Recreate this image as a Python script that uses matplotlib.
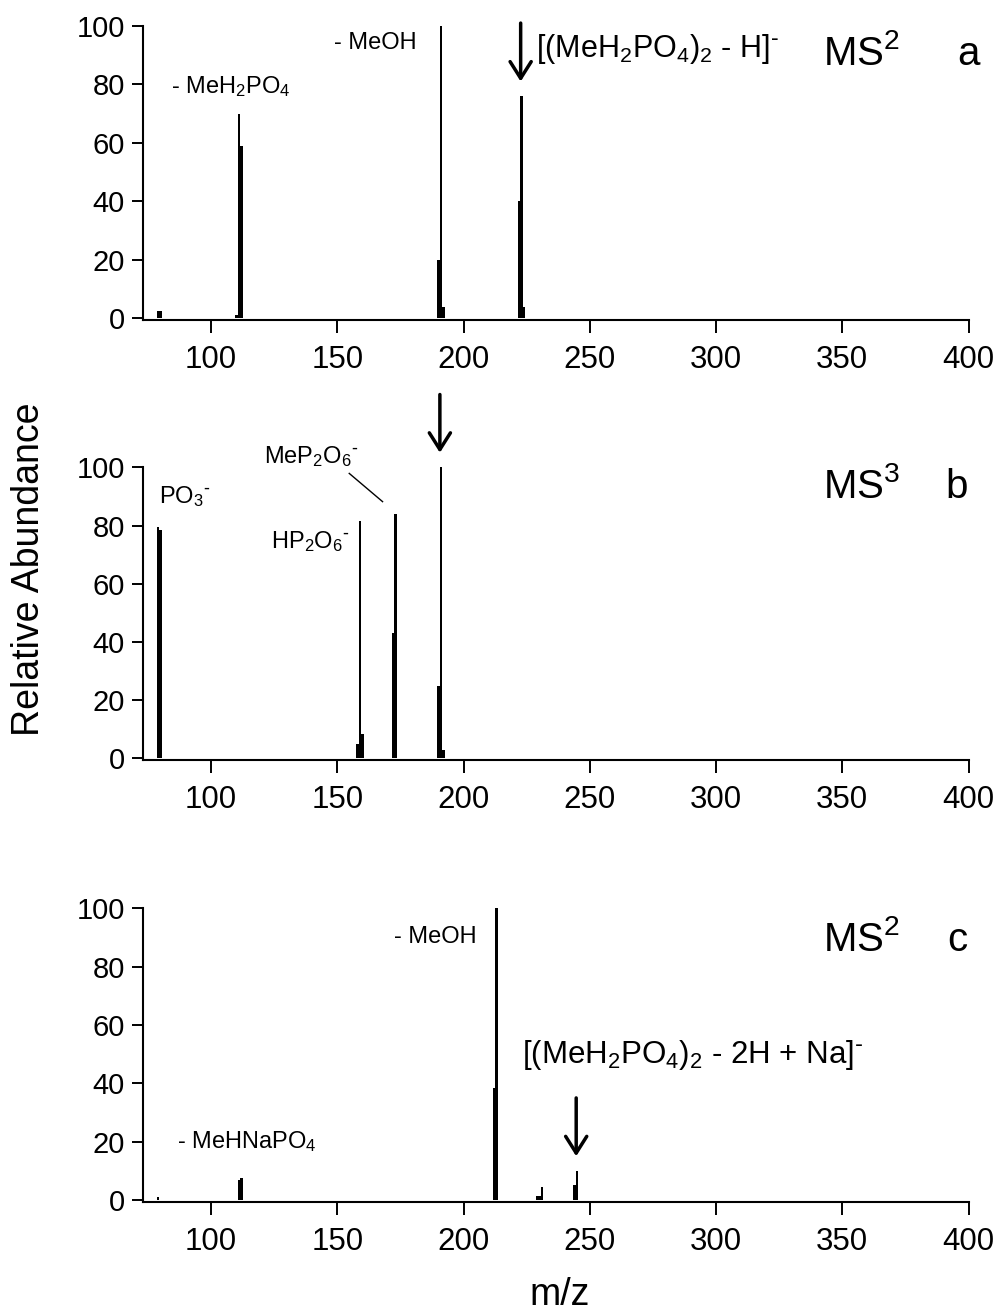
import matplotlib
matplotlib.use('Agg')
import matplotlib.pyplot as plt

plt.rcParams['font.family'] = ['Liberation Sans', 'DejaVu Sans']
plt.rcParams['mathtext.default'] = 'regular'

# ---- data ----
mz_a = [79, 80, 110, 111, 112, 190, 191, 192, 222, 223, 224]
ab_a = [2.5, 2.5, 1, 70, 59, 20, 100, 4, 40, 76, 4]

mz_b = [79, 80, 158, 159, 160, 172, 173, 190, 191, 192]
ab_b = [79.5, 78.5, 5, 81.5, 8.5, 43, 84, 25, 100, 3]

mz_c = [79, 111, 112, 212, 213, 229, 230, 231, 244, 245]
ab_c = [1, 7, 7.5, 38.5, 100, 1.5, 1.5, 4.5, 5, 10]

precursor_mz = [223, 191, 245]
stage_labels = ['MS$^2$', 'MS$^3$', 'MS$^2$']
panel_letters = ['a', 'b', 'c']
x_ticks = [100, 150, 200, 250, 300, 350, 400]
y_ticks = [0, 20, 40, 60, 80, 100]

fig = plt.figure(figsize=(10, 13.16), dpi=100)

W, H = 1000.0, 1316.0
left_px, right_px = 143.0, 968.5
panels_px = [(26.0, 319.8), (467.3, 759.8), (908.3, 1201.5)]

axes = []
for top, bot in panels_px:
    ax = fig.add_axes([left_px / W, 1 - bot / H, (right_px - left_px) / W, (bot - top) / H])
    axes.append(ax)

SUPM = r'$^{\text{-}}$'

datasets = [(mz_a, ab_a), (mz_b, ab_b), (mz_c, ab_c)]
for i, ax in enumerate(axes):
    mz, ab = datasets[i]
    ax.bar(mz, ab, width=1.0, color='black', linewidth=0)
    ax.set_xlim(73, 400)
    ax.set_ylim(-0.5, 100)
    ax.set_xticks(x_ticks)
    ax.set_yticks(y_ticks)
    for s in ['top', 'right']:
        ax.spines[s].set_visible(False)
    for s in ['left', 'bottom']:
        ax.spines[s].set_linewidth(1.5)
    ax.tick_params(axis='x', direction='out', length=9.5, width=1.4, labelsize=22.5, pad=9)
    ax.tick_params(axis='y', direction='out', length=8, width=1.4, labelsize=21, pad=5)
    # precursor arrow
    p = precursor_mz[i]
    peak = ab[mz.index(p)]
    tip = peak + 5
    ax.annotate('', xy=(p - 0.4, tip), xytext=(p - 0.4, tip + 20),
                arrowprops=dict(arrowstyle='->,head_length=0.6,head_width=0.38',
                                lw=2.5, color='black', mutation_scale=20,
                                shrinkA=0, shrinkB=0),
                annotation_clip=False)
    ax.text(342.5, [86.7, 89.3, 85.5][i], stage_labels[i], fontsize=29, va='baseline', ha='left')
    ax.text([395.5, 391.0, 391.5][i], [86.7, 89.3, 85.5][i], panel_letters[i],
            fontsize=29, va='baseline', ha='left')

axa, axb, axc = axes

# panel a annotations
axa.text(84.1, 77.0, '- MeH$_2$PO$_4$', fontsize=17, va='baseline', ha='left')
axa.text(148.7, 92.1, '- MeOH', fontsize=17, va='baseline', ha='left')
axa.text(228.8, 89.5, '[(MeH$_2$PO$_4$)$_2$ - H]' + SUPM, fontsize=22, va='baseline', ha='left')

# panel b annotations
axb.text(79.4, 87.6, 'PO$_3$' + SUPM, fontsize=17, va='baseline', ha='left')
axb.text(123.6, 72.2, 'HP$_2$O$_6$' + SUPM, fontsize=17, va='baseline', ha='left')
axb.text(121.0, 101.6, 'MeP$_2$O$_6$' + SUPM, fontsize=17, va='baseline', ha='left')
axb.plot([154.7, 167.9], [97.9, 88.2], color='black', lw=1.0, clip_on=False)

# panel c annotations
axc.text(172.4, 88.0, '- MeOH', fontsize=17, va='baseline', ha='left')
axc.text(86.4, 17.7, '- MeHNaPO$_4$', fontsize=17, va='baseline', ha='left')
axc.text(223.0, 46.9, '[(MeH$_2$PO$_4$)$_2$ - 2H + Na]' + SUPM, fontsize=22.5,
         va='baseline', ha='left')

fig.text(29 / W, 1 - 569 / H, 'Relative Abundance', rotation=90, fontsize=27,
         ha='center', va='center')
fig.text(560 / W, 1 - 1305 / H, 'm/z', fontsize=27, ha='center', va='baseline')

fig.savefig('out.png', dpi=100)
